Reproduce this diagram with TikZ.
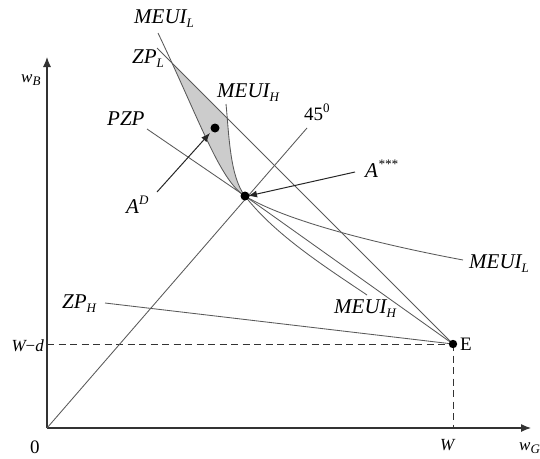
\documentclass[tikz,border=0pt]{standalone}
\usepackage{fontspec}
\setmainfont{Liberation Serif}
\usetikzlibrary{arrows.meta}
\newcommand\sbs[1]{\raisebox{-0.45ex}{\fontsize{13}{13}\selectfont\itshape #1}}
\newcommand\sps[1]{\raisebox{0.85ex}{\fontsize{13}{13}\selectfont\itshape #1}}
\begin{document}
\begin{tikzpicture}[x=1pt,y=-1pt,
  crv/.style={draw=black!65, line width=0.85pt},
  axisln/.style={draw=black!80, line width=1.1pt, -{Latex[length=10pt,width=8pt]}},
  dsh/.style={draw=black!80, line width=1pt, dash pattern=on 7pt off 4.5pt},
  ptr/.style={draw=black!85, line width=1pt, -{Latex[length=9pt,width=7pt]}},
  lbl/.style={inner sep=0pt, anchor=base west, font=\fontsize{21}{24}\selectfont\itshape},
  albl/.style={inner sep=0pt, anchor=base west, font=\fontsize{17}{19}\selectfont\itshape},
  rlbl/.style={inner sep=0pt, anchor=base west, font=\fontsize{19}{21}\selectfont},
  dot/.style={fill=black}]
\useasboundingbox (0,0) rectangle (540,458);
% coordinates
\coordinate (O) at (47,428);
\coordinate (Xend) at (531,428);
\coordinate (Yend) at (47,57);
\coordinate (E) at (453,344);
\coordinate (Wd) at (47,344);
\coordinate (Wx) at (453,428);
\coordinate (As) at (245,196);
\coordinate (AD) at (215,128);
\coordinate (T45) at (307,128);
\coordinate (ZPLs) at (157,48);
\coordinate (MLs) at (158,33);
\coordinate (MLe) at (463,260);
\coordinate (MHs) at (226,104);
\coordinate (MHe) at (367,295);
\coordinate (PZPs) at (147,129);
\coordinate (ZPHs) at (105,303);
\coordinate (ADtail) at (157,192);
\coordinate (ADtip) at (210,133);
\coordinate (Astail) at (355,172);
\coordinate (Astip) at (248,196);
% shaded region
\begin{scope}
  \clip (MLs) .. controls (200,121) and (220,181) .. (As) -- (400,196) -- (400,0) -- (158,0) -- cycle;
  \clip (100,-9) -- (500,391) -- (0,391) -- (0,-9) -- cycle;
  \clip (225,0) -- (MHs) .. controls (229,135) and (230,177) .. (As) -- (0,196) -- (0,0) -- cycle;
  \fill[black!20] (0,0) rectangle (540,458);
\end{scope}
% axes
\draw[axisln] (O) -- (Xend);
\draw[axisln] (O) -- (Yend);
\draw[dsh] (Wd) -- (E);
\draw[dsh] (E) -- (Wx);
% lines
\draw[crv] (O) -- (T45);
\draw[crv] (ZPLs) -- (E);
\draw[crv] (PZPs) -- (As) -- (E);
\draw[crv] (ZPHs) -- (E);
\draw[crv] (MLs) .. controls (200,121) and (220,181) .. (As)
                 .. controls (288,222) and (383,245) .. (MLe);
\draw[crv] (MHs) .. controls (229,135) and (230,177) .. (As)
                 .. controls (275,235) and (327,268) .. (MHe);
% arrows and dots
\draw[ptr] (ADtail) -- (ADtip);
\draw[ptr] (Astail) -- (Astip);
\fill[dot] (AD) circle (4.5);
\fill[dot] (As) circle (4.5);
\fill[dot] (E) circle (4.2);
% labels
\node[lbl] (lMLt) at (134,23) {MEUI\sbs{L}};
\node[lbl] (lZPL) at (132,63) {ZP\sbs{L}};
\node[lbl] (lMHt) at (217,97) {MEUI\sbs{H}};
\node[lbl] (lPZP) at (107,125) {PZP};
\node[rlbl] (l45) at (304,120) {45\sps{\upshape 0}};
\node[lbl] (lAD) at (126,213) {A\sps{D}};
\node[lbl] (lAs) at (365,177) {A\sps{***}};
\node[lbl] (lMLr) at (469,268) {MEUI\sbs{L}};
\node[lbl] (lMHr) at (334,313) {MEUI\sbs{H}};
\node[lbl] (lZPH) at (62,308) {ZP\sbs{H}};
\node[rlbl] (lE) at (460,350) {E};
\node[albl, anchor=base east] (lWd) at (44,351) {W\upshape{\textminus}\itshape d};
\node[albl] (lW) at (440,450) {W};
\node[rlbl] (l0) at (30,453) {0};
\node[albl] (lwG) at (519,450) {w\sbs{G}};
\node[albl] (lwB) at (21,82) {w\sbs{B}};
\end{tikzpicture}
\end{document}
